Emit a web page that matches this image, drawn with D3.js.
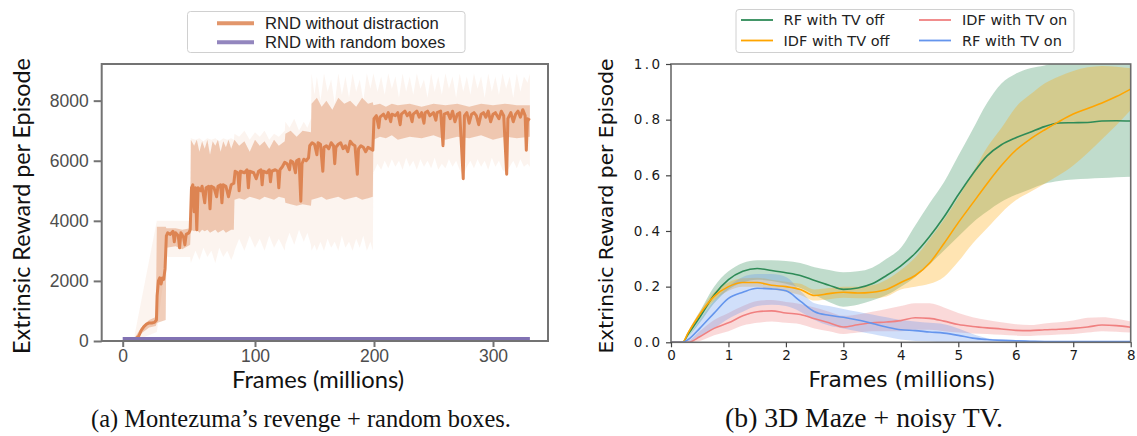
<!DOCTYPE html>
<html>
<head>
<meta charset="utf-8">
<script src="https://cdn.jsdelivr.net/npm/d3@7/dist/d3.min.js"></script>
<style>
  html, body { margin: 0; padding: 0; background: #fff; }
  svg { display: block; }
</style>
</head>
<body>
<script>
// ---------------- DATA : left panel (Montezuma's revenge) ----------------
const leftXTicks = [0, 100, 200, 300];
const leftYTicks = [0, 2000, 4000, 6000, 8000];
const leftSeriesNames = ["RND without distraction", "RND with random boxes"];

// [frames (millions), mean extrinsic reward]
const rndWithoutDistraction = [
  [9,50],[12,150],[14,350],[16,480],[18,560],[20,600],[22,600],[24,620],[25.5,700],[26,1500],
  [27,2000],[28,2100],[29,1900],[30,2100],[31,2050],[32,2400],[33,3500],[34,3600],[36,3550],[38,3650],
  [39,3300],[40,3600],[42,3500],[43,3100],[44,3600],[46,3450],[47,3200],[48,3550],[50,3600],[51,3700],
  [52,5100],[53,5200],[54,4300],[55,5100],[56,3700],[57,5100],[59,5000],[60,5150],[62,4600],[63,5100],
  [65,5150],[66,4400],[67,5150],[69,5100],[71,4800],[72,5150],[74,5200],[75,4600],[76,5200],[78,5150],
  [80,4800],[82,5200],[84,5250],[85,5650],[87,5600],[88,5000],[89,5650],[92,5600],[94,5700],[95,5100],
  [96,5650],[99,5600],[101,5400],[103,5650],[105,5700],[106,5200],[107,5650],[110,5600],[112,5700],[113,5300],
  [114,5650],[117,5700],[119,5650],[120,5100],[121,5700],[123,5800],[125,5950],[127,5900],[129,5700],[130,6000],
  [132,5950],[134,5600],[135,6000],[137,6050],[138.5,4650],[139.5,5900],[141,6050],[143,6000],[145,6100],[146,6500],
  [148,6600],[150,6550],[152,6200],[153,6600],[155,6550],[157,5650],[158,6450],[160,6500],[162,6400],[164,6600],
  [166,6500],[167,5900],[168,6450],[170,6550],[172,6600],[174,6400],[176,6500],[178,6300],[180,6650],[182,6550],
  [184,6500],[186,5550],[187,6400],[189,6500],[191,6450],[193,6300],[195,6450],[197,6400],[199,6350],[200,7400],
  [202,7500],[204,7100],[205,7450],[208,7550],[210,7400],[212,7600],[214,7300],[215,7550],[218,7500],[220,7600],
  [222,7200],[223,7550],[226,7650],[228,7500],[230,7600],[232,7300],[233,7550],[236,7650],[238,7450],[240,7600],
  [242,7250],[243,7600],[245,7650],[247,7500],[250,7600],[252,7350],[253,7600],[256,7650],[258,6500],[259,7550],
  [262,7600],[264,7400],[266,7650],[268,7300],[270,7550],[272,7600],[275,5400],[276,7500],[278,7600],[280,7250],
  [282,7550],[284,7600],[286,7500],[288,7200],[290,7550],[292,7600],[294,7450],[296,7650],[298,7300],[300,7550],
  [302,7600],[305,7400],[307,7650],[309,7500],[311.5,5550],[312.5,7400],[315,7600],[317,7300],[319,7550],[321,7650],
  [323,7450],[325,7700],[327,7500],[328,6350],[329,7400],[331,7350]
];

// [frames, lower, upper] of the inner shaded band
const rndBand = [
  [9,0,100],[14,250,450],[20,450,700],[25,500,800],[25.8,600,3800],[32.5,700,3800],[33,3100,3750],[40,3150,3750],[45,3050,3700],[51,3200,3750],
  [51.5,3700,6700],[54,3650,6500],[56,3700,6700],[58,3600,6300],[60,3700,6650],[62,3650,6400],[64,3700,6700],[66,3600,6200],[68,3650,6650],[70,3700,6500],
  [72,3600,6700],[74,3650,6300],[76,3700,6650],[78,3600,6450],[80,3650,6700],[82,3700,6400],[84,3700,6650],
  [84.5,4700,6700],[88,4750,6500],[92,4700,6650],[96,4800,6300],[100,4750,6700],[104,4700,6500],[108,4800,6650],[112,4750,6400],[116,4700,6700],[120,4800,6500],[125,4750,6650],
  [125.5,4600,6900],[130,4550,7000],[135,4500,6800],[140,4550,7000],[147,4500,6950],
  [147.5,4700,7900],[152,4750,8100],[156,4800,7800],[160,4700,8000],[165,4750,7700],[170,4800,8100],[175,4700,7900],[180,4750,8000],[185,4800,7800],[190,4700,8100],[195,4750,7900],[199,4800,7950],
  [199.5,6700,7850],[205,6800,7900],[210,6750,7800],[215,6850,7900],[220,6700,7850],[230,6800,7900],[240,6750,7800],[250,6850,7900],[260,6700,7850],
  [270,6800,7900],[280,6750,7800],[290,6850,7900],[300,6700,7850],[310,6800,7900],[320,6750,7850],[331,6800,7850]
];

// [frames, min, max] of the faint outer spread (spiky streaks)
const rndSpread = [
  [9,0,200],[25.8,300,4000],[33,2800,4000],[51,2800,4000],
  [51.5,2600,6750],[55,3000,6700],[58,2700,6750],[61,3100,6650],[64,2800,6750],[67,3000,6700],[70,2600,6750],[73,3100,6650],[76,2800,6750],[79,3000,6700],[82,2700,6750],[84,2900,6700],
  [84.5,3000,6900],[88,3400,6800],[92,3000,7000],[96,3500,6700],[100,3100,6950],[104,3400,6800],[108,3000,7000],[112,3500,6700],[116,3100,6900],[120,3400,6800],[125,3000,7000],
  [125.5,3200,7300],[129,3600,7100],[133,3200,7400],[137,3700,7000],[141,3300,7300],[144,3600,7100],[147,3200,7400],
  [147.5,3000,8900],[150,3200,8200],[152,3000,8800],[155,3300,8000],[158,3000,8900],[161,3400,8300],[164,3100,8700],[167,3300,7900],[170,3000,8900],[173,3500,8200],
  [176,3100,8800],[179,3300,8100],[182,3000,8900],[185,3400,8300],[188,3100,8700],[191,3500,8000],[194,3000,8900],[197,3300,8400],[199,3000,8800],
  [199.5,5600,8900],[203,5900,8300],[206,5700,8800],[209,6000,8200],[212,5750,8900],[215,6050,8400],[218,5800,8800],[221,6000,8100],[224,5700,8900],[227,6100,8300],
  [230,5800,8800],[233,6000,8200],[236,5700,8900],[239,6050,8400],[242,5800,8700],[245,6000,8100],[248,5750,8900],[251,6100,8300],[254,5700,8800],[257,5900,8200],
  [260,5750,8900],[263,6050,8400],[266,5800,8800],[269,6000,8100],[272,5700,8900],[275,5500,8300],[278,5800,8800],[281,6000,8200],[284,5750,8900],[287,6050,8400],
  [290,5800,8800],[293,6000,8100],[296,5700,8900],[299,6100,8300],[302,5800,8800],[305,6000,8200],[308,5700,8900],[311,5600,8400],[314,5800,8800],[317,6000,8100],
  [320,5750,8900],[323,6050,8300],[326,5800,8800],[329,5900,8600],[331,5800,8900]
];

// [frames, mean] for the random boxes run (flat near zero)
const rndRandomBoxes = [[0,80],[100,80],[200,80],[331,80]];

// ---------------- DATA : right panel (3D Maze) ----------------
const rightXTicks = [0,1,2,3,4,5,6,7,8];
const rightYTicks = [0.0,0.2,0.4,0.6,0.8,1.0];
const mazeFrames = [0,0.2,0.3,0.5,0.75,1,1.25,1.5,1.75,2,2.25,2.5,2.75,3,3.25,3.5,3.75,4,4.25,4.5,4.75,5,5.25,5.5,5.75,6,6.25,6.5,6.75,7,7.25,7.5,7.75,8];

const rfTvOff     = [0,0,0.03,0.09,0.17,0.225,0.255,0.265,0.258,0.25,0.24,0.222,0.205,0.19,0.195,0.21,0.24,0.275,0.32,0.38,0.45,0.53,0.605,0.67,0.71,0.735,0.755,0.775,0.788,0.789,0.79,0.795,0.796,0.795];
const rfTvOffLow  = [0,0,0.02,0.07,0.14,0.19,0.215,0.225,0.22,0.21,0.195,0.17,0.145,0.128,0.135,0.15,0.17,0.2,0.235,0.28,0.33,0.38,0.43,0.47,0.505,0.53,0.55,0.57,0.58,0.585,0.588,0.59,0.593,0.595];
const rfTvOffHigh = [0,0,0.04,0.11,0.2,0.255,0.285,0.295,0.295,0.292,0.285,0.27,0.26,0.252,0.255,0.268,0.3,0.34,0.42,0.5,0.575,0.67,0.765,0.86,0.93,0.965,0.985,0.995,1.01,1.02,1.02,1.02,1.02,1.02];

const idfTvOff     = [0,0,0.035,0.1,0.165,0.2,0.215,0.215,0.205,0.2,0.19,0.168,0.175,0.18,0.177,0.18,0.19,0.215,0.24,0.285,0.355,0.43,0.5,0.57,0.635,0.69,0.73,0.763,0.793,0.82,0.84,0.86,0.883,0.91];
const idfTvOffLow  = [0,0,0.03,0.09,0.15,0.185,0.2,0.2,0.19,0.182,0.17,0.15,0.155,0.16,0.158,0.158,0.165,0.19,0.2,0.21,0.235,0.29,0.355,0.41,0.465,0.51,0.54,0.57,0.6,0.635,0.68,0.73,0.78,0.835];
const idfTvOffHigh = [0,0,0.04,0.11,0.18,0.215,0.23,0.232,0.225,0.218,0.21,0.19,0.195,0.2,0.2,0.205,0.225,0.26,0.305,0.37,0.44,0.52,0.61,0.7,0.77,0.845,0.89,0.93,0.955,0.975,0.988,0.993,0.99,0.985];

const idfTvOn     = [0,0,0,0.02,0.05,0.07,0.095,0.11,0.113,0.105,0.1,0.085,0.07,0.055,0.063,0.07,0.073,0.078,0.088,0.086,0.076,0.064,0.057,0.052,0.048,0.043,0.042,0.045,0.047,0.05,0.055,0.062,0.06,0.054];
const idfTvOnLow  = [0,0,0,0.005,0.025,0.04,0.06,0.07,0.075,0.07,0.065,0.05,0.04,0.03,0.035,0.04,0.04,0.04,0.045,0.045,0.04,0.035,0.032,0.03,0.027,0.024,0.023,0.025,0.028,0.03,0.035,0.04,0.038,0.035];
const idfTvOnHigh = [0,0,0.005,0.04,0.08,0.105,0.13,0.148,0.152,0.145,0.138,0.125,0.11,0.095,0.1,0.11,0.12,0.13,0.14,0.14,0.125,0.105,0.09,0.08,0.072,0.065,0.062,0.068,0.072,0.078,0.088,0.09,0.085,0.075];

const rfTvOn     = [0,0,0.01,0.05,0.105,0.158,0.18,0.194,0.192,0.185,0.148,0.11,0.097,0.09,0.08,0.068,0.055,0.045,0.042,0.037,0.033,0.025,0.015,0.01,0.007,0.005,0.004,0.003,0.003,0.003,0.003,0.003,0.003,0.003];
const rfTvOnLow  = [0,0,0,0.02,0.05,0.085,0.11,0.13,0.135,0.13,0.11,0.08,0.06,0.05,0.04,0.03,0.02,0.01,0.005,0.003,0,0,0,0,0,0,0,0,0,0,0,0,0,0];
const rfTvOnHigh = [0,0,0.02,0.08,0.15,0.2,0.235,0.245,0.245,0.235,0.185,0.14,0.13,0.12,0.11,0.1,0.09,0.08,0.075,0.07,0.065,0.05,0.03,0.015,0.01,0.008,0.006,0.005,0.005,0.005,0.005,0.005,0.005,0.005];

const rightSeriesNames = ["RF with TV off","IDF with TV off","IDF with TV on","RF with TV on"];

// ---------------- DRAWING ----------------
const W = 1137, H = 436;
const svg = d3.select("body").append("svg").attr("width", W).attr("height", H);
svg.append("rect").attr("width", W).attr("height", H).attr("fill", "#fff");

function fitText(sel, target) {
  const fs = parseFloat(sel.attr("font-size"));
  const len = sel.node().getComputedTextLength();
  if (len > 0) sel.attr("font-size", (fs * target / len).toFixed(2));
  return sel;
}

// ===== LEFT PANEL =====
const L = { left: 101.7, right: 548, top: 64, bottom: 341 };
const xL = d3.scaleLinear().domain(leftXTicks).range([122.7, 255, 374, 493]);
const yL = d3.scaleLinear().domain([0, 9220]).range([L.bottom, L.top]);
const orange = "#dd8452", purple = "#8172b3";

const gL = svg.append("g");
svg.append("clipPath").attr("id", "clipL")
  .append("rect").attr("x", L.left).attr("y", L.top).attr("width", L.right - L.left).attr("height", L.bottom - L.top);

const plotL = gL.append("g").attr("clip-path", "url(#clipL)");
plotL.append("path").datum(rndSpread)
  .attr("d", d3.area().x(d => xL(d[0])).y0(d => yL(d[1])).y1(d => yL(d[2])))
  .attr("fill", orange).attr("opacity", 0.09);
plotL.append("path").datum(rndBand)
  .attr("d", d3.area().x(d => xL(d[0])).y0(d => yL(d[1])).y1(d => yL(d[2])))
  .attr("fill", orange).attr("opacity", 0.4);
plotL.append("path").datum(rndWithoutDistraction)
  .attr("d", d3.line().x(d => xL(d[0])).y(d => yL(d[1])))
  .attr("fill", "none").attr("stroke", orange).attr("stroke-width", 3).attr("stroke-linejoin", "round");
plotL.append("path").datum(rndRandomBoxes)
  .attr("d", d3.line().x(d => xL(d[0])).y(d => yL(d[1])))
  .attr("fill", "none").attr("stroke", purple).attr("stroke-width", 3);

// frame
gL.append("rect").attr("x", L.left).attr("y", L.top).attr("width", L.right - L.left).attr("height", L.bottom - L.top)
  .attr("fill", "none").attr("stroke", "#737373").attr("stroke-width", 2);

const axL = gL.append("g").attr("transform", `translate(${L.left},0)`)
  .call(d3.axisLeft(yL).tickValues(leftYTicks).tickSize(8).tickPadding(5).tickFormat(d3.format("d")));
const axB = gL.append("g").attr("transform", `translate(0,${L.bottom})`)
  .call(d3.axisBottom(xL).tickValues(leftXTicks).tickSize(6).tickPadding(3).tickFormat(d3.format("d")));
[axL, axB].forEach(a => {
  a.select(".domain").remove();
  a.selectAll(".tick line").attr("stroke", "#737373").attr("stroke-width", 2);
  a.selectAll(".tick text").attr("fill", "#4d4d4d").attr("font-family", "Liberation Sans, Arial, sans-serif").attr("font-size", 17.5);
});

fitText(gL.append("text").attr("x", 318).attr("y", 388).attr("text-anchor", "middle")
  .attr("font-family", "Lato, sans-serif").attr("font-size", 20).attr("fill", "#111").text("Frames (millions)"), 172);
fitText(gL.append("text").attr("transform", "translate(30,206) rotate(-90)").attr("text-anchor", "middle")
  .attr("font-family", "Lato, sans-serif").attr("font-size", 20).attr("fill", "#111").text("Extrinsic Reward per Episode"), 296);

// legend left
const lgL = gL.append("g");
lgL.append("rect").attr("x", 187.5).attr("y", 11.5).attr("width", 277.5).attr("height", 41).attr("rx", 3)
  .attr("fill", "#fff").attr("stroke", "#d0d0d0").attr("stroke-width", 1);
let legFs = 16;
[[orange, 23.3], [purple, 42.3]].forEach((c, i) => {
  lgL.append("line").attr("x1", 217).attr("x2", 254).attr("y1", c[1]).attr("y2", c[1])
    .attr("stroke", c[0]).attr("stroke-width", 4).attr("opacity", 0.85);
  const t = lgL.append("text").attr("x", 265).attr("y", c[1]).attr("dy", "0.35em")
    .attr("font-family", "Liberation Sans, Arial, sans-serif").attr("font-size", legFs).attr("fill", "#222")
    .text(leftSeriesNames[i]);
  if (i === 0) { fitText(t, 174); legFs = t.attr("font-size"); }
});

// caption a
fitText(svg.append("text").attr("x", 301).attr("y", 427).attr("text-anchor", "middle")
  .attr("font-family", "Liberation Serif, Times New Roman, serif").attr("font-size", 22).attr("fill", "#111")
  .text("(a) Montezuma’s revenge + random boxes."), 420);

// ===== RIGHT PANEL =====
const R = { left: 671, right: 1130.7, top: 64, bottom: 342.3 };
const xR = d3.scaleLinear().domain([0, 8]).range([R.left, R.right]);
const yR = d3.scaleLinear().domain([0, 1]).range([R.bottom, R.top]);
const gR = svg.append("g");
svg.append("clipPath").attr("id", "clipR")
  .append("rect").attr("x", R.left).attr("y", R.top).attr("width", R.right - R.left).attr("height", R.bottom - R.top);
const plotR = gR.append("g").attr("clip-path", "url(#clipR)");

const rightSeries = [
  { name: rightSeriesNames[0], color: "#2e8b57", mean: rfTvOff, low: rfTvOffLow, high: rfTvOffHigh },
  { name: rightSeriesNames[1], color: "#ffa500", mean: idfTvOff, low: idfTvOffLow, high: idfTvOffHigh },
  { name: rightSeriesNames[2], color: "#f08080", mean: idfTvOn, low: idfTvOnLow, high: idfTvOnHigh },
  { name: rightSeriesNames[3], color: "#6495ed", mean: rfTvOn, low: rfTvOnLow, high: rfTvOnHigh }
];
const areaR = d3.area().curve(d3.curveMonotoneX).x(d => xR(d.x)).y0(d => yR(d.lo)).y1(d => yR(d.hi));
const lineR = d3.line().curve(d3.curveMonotoneX).x(d => xR(d.x)).y(d => yR(d.y));
rightSeries.forEach(s => {
  const pts = mazeFrames.map((x, i) => ({ x, lo: s.low[i], hi: s.high[i] }));
  plotR.append("path").datum(pts).attr("d", areaR).attr("fill", s.color).attr("opacity", 0.3);
});
rightSeries.forEach(s => {
  const pts = mazeFrames.map((x, i) => ({ x, y: s.mean[i] }));
  plotR.append("path").datum(pts).attr("d", lineR).attr("fill", "none")
    .attr("stroke", s.color).attr("stroke-width", 1.6);
});

gR.append("rect").attr("x", R.left).attr("y", R.top).attr("width", R.right - R.left).attr("height", R.bottom - R.top)
  .attr("fill", "none").attr("stroke", "#6b6b6b").attr("stroke-width", 1.6);

const axRL = gR.append("g").attr("transform", `translate(${R.left},0)`)
  .call(d3.axisLeft(yR).tickValues(rightYTicks).tickSize(5).tickPadding(6).tickFormat(d3.format(".1f")));
const axRB = gR.append("g").attr("transform", `translate(0,${R.bottom})`)
  .call(d3.axisBottom(xR).tickValues(rightXTicks).tickSize(5).tickPadding(3).tickFormat(d3.format("d")));
[axRL, axRB].forEach(a => {
  a.select(".domain").remove();
  a.selectAll(".tick line").attr("stroke", "#444").attr("stroke-width", 1.2);
  a.selectAll(".tick text").attr("fill", "#1a1a1a").attr("font-family", "DejaVu Sans, sans-serif")
    .attr("font-size", 13.5).attr("letter-spacing", "2.4px");
});
axRL.selectAll(".tick text").attr("dx", "2.4px");
axRB.selectAll(".tick text").attr("dx", "1.2px");

fitText(gR.append("text").attr("x", 902).attr("y", 387).attr("text-anchor", "middle")
  .attr("font-family", "DejaVu Sans, sans-serif").attr("font-size", 18).attr("fill", "#111").text("Frames (millions)"), 187);
fitText(gR.append("text").attr("transform", "translate(613,206) rotate(-90)").attr("text-anchor", "middle")
  .attr("font-family", "DejaVu Sans, sans-serif").attr("font-size", 18).attr("fill", "#111").text("Extrinsic Reward per Episode"), 295);

// legend right
const lgR = gR.append("g");
lgR.append("rect").attr("x", 736).attr("y", 9.5).attr("width", 338).attr("height", 43).attr("rx", 3)
  .attr("fill", "#fff").attr("stroke", "#d0d0d0").attr("stroke-width", 1);
const legPos = [[741, 783.6, 20], [741, 783.6, 40.5], [919, 962, 20], [919, 962, 40.5]];
rightSeries.forEach((s, i) => {
  const p = legPos[i];
  lgR.append("line").attr("x1", p[0]).attr("x2", p[0] + 32).attr("y1", p[2]).attr("y2", p[2])
    .attr("stroke", s.color).attr("stroke-width", 1.8);
  lgR.append("text").attr("x", p[1]).attr("y", p[2]).attr("dy", "0.35em")
    .attr("font-family", "DejaVu Sans, sans-serif").attr("font-size", 14.5).attr("fill", "#222").text(s.name);
});

// caption b
fitText(svg.append("text").attr("x", 864).attr("y", 427).attr("text-anchor", "middle")
  .attr("font-family", "Liberation Serif, Times New Roman, serif").attr("font-size", 22).attr("fill", "#111")
  .text("(b) 3D Maze + noisy TV."), 278);
</script>
</body>
</html>
